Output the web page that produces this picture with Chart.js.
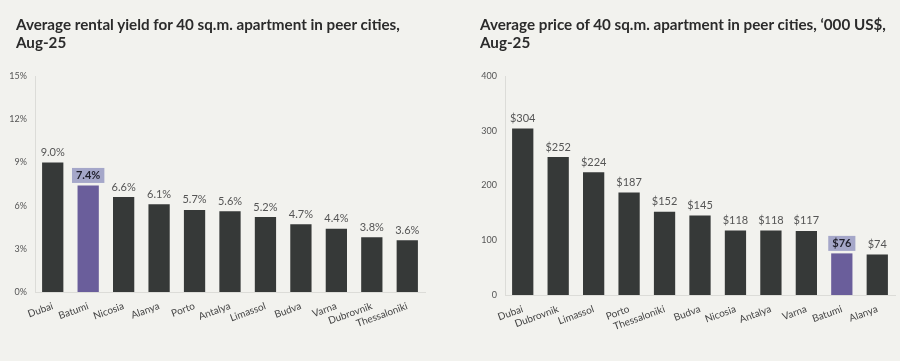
<!DOCTYPE html>
<html lang="en">
<head>
<meta charset="UTF-8">
<title>Peer cities</title>
<script src="https://cdn.jsdelivr.net/npm/chart.js@4.4.1/dist/chart.umd.min.js"></script>
<style>
    body { margin: 0; background: #f2f2ee; font-family: Lato, sans-serif; }
    .panel { position: absolute; top: 0; width: 450px; height: 361px; }
    .title { position: absolute; top: 15px; font-weight: bold; font-size: 15.2px; line-height: 18px; color: #2b2b2b; }
</style>
</head>
<body>
<div class="panel" style="left:0">
    <div class="title" style="left:16px">Average rental yield for 40 sq.m. apartment in peer cities,<br>Aug-25</div>
    <canvas id="yield-chart"></canvas>
</div>
<div class="panel" style="left:450px">
    <div class="title" style="left:30px">Average price of 40 sq.m. apartment in peer cities, ‘000 US$,<br>Aug-25</div>
    <canvas id="price-chart"></canvas>
</div>

<script>
// rental yield, %
const yieldCities = ['Dubai', 'Batumi', 'Nicosia', 'Alanya', 'Porto', 'Antalya', 'Limassol', 'Budva', 'Varna', 'Dubrovnik', 'Thessaloniki'];
const yieldValues = [9.0, 7.4, 6.6, 6.1, 5.7, 5.6, 5.2, 4.7, 4.4, 3.8, 3.6];
const yieldTicks = [0, 3, 6, 9, 12, 15];

// price, '000 US$
const priceCities = ['Dubai', 'Dubrovnik', 'Limassol', 'Porto', 'Thessaloniki', 'Budva', 'Nicosia', 'Antalya', 'Varna', 'Batumi', 'Alanya'];
const priceValues = [304, 252, 224, 187, 152, 145, 118, 118, 117, 76, 74];
const priceTicks = [0, 100, 200, 300, 400];

const highlight = 'Batumi';
const DARK = '#363938';
const PURPLE = '#6a5e9b';

// draws the value above each bar, Batumi gets a box
const valueLabels = {
    id: 'valueLabels',
    afterDatasetsDraw(chart, args, opts) {
        const ctx = chart.ctx;
        const meta = chart.getDatasetMeta(0);
        const labels = chart.data.labels;
        const data = chart.data.datasets[0].data;
        ctx.save();
        ctx.textAlign = 'center';
        ctx.textBaseline = 'middle';
        meta.data.forEach((bar, i) => {
            const txt = opts.format(data[i]);
            const y = bar.y - 10;
            if (labels[i] === highlight) {
                ctx.font = 'bold 11px Lato';
                const w = ctx.measureText(txt).width + 8;
                ctx.fillStyle = '#a5a7c9';
                ctx.fillRect(bar.x - w / 2, y - 7.5, w, 15);
                ctx.fillStyle = '#1e1e2a';
            } else {
                ctx.font = '11px Lato';
                ctx.fillStyle = '#555';
            }
            ctx.fillText(txt, bar.x, y);
        });
        ctx.restore();
    }
};

function makeChart(id, cities, values, ticks, yWidth, xHeight, padRight, fmtTick, fmtValue) {
    return new Chart(document.getElementById(id), {
        type: 'bar',
        data: {
            labels: cities,
            datasets: [{
                data: values,
                backgroundColor: cities.map(c => c === highlight ? PURPLE : DARK),
                barPercentage: 0.6,
                categoryPercentage: 1.0
            }]
        },
        options: {
            responsive: true,
            maintainAspectRatio: false,
            animation: false,
            layout: { padding: { top: 76, right: padRight, left: 0, bottom: 0 } },
            plugins: {
                legend: { display: false },
                tooltip: { enabled: false },
                valueLabels: { format: fmtValue }
            },
            scales: {
                x: {
                    grid: { display: false },
                    border: { color: '#dcdcd8' },
                    ticks: { color: '#444', font: { family: 'Lato', size: 10 }, autoSkip: false, minRotation: 20, maxRotation: 20, padding: 0 },
                    afterFit(scale) { scale.height = xHeight; }
                },
                y: {
                    min: ticks[0],
                    max: ticks[ticks.length - 1],
                    afterBuildTicks(scale) { scale.ticks = ticks.map(v => ({ value: v })); },
                    grid: { display: false },
                    border: { color: '#dcdcd8' },
                    ticks: { color: '#555', font: { family: 'Lato', size: 9 }, padding: 0, callback: fmtTick },
                    afterFit(scale) { scale.width = yWidth; }
                }
            }
        },
        plugins: [valueLabels]
    });
}

makeChart('yield-chart', yieldCities, yieldValues, yieldTicks, 35, 69, 25,
    v => v + '%', v => v.toFixed(1) + '%');
makeChart('price-chart', priceCities, priceValues, priceTicks, 55, 66, 5,
    v => v, v => '$' + v);
</script>
</body>
</html>
